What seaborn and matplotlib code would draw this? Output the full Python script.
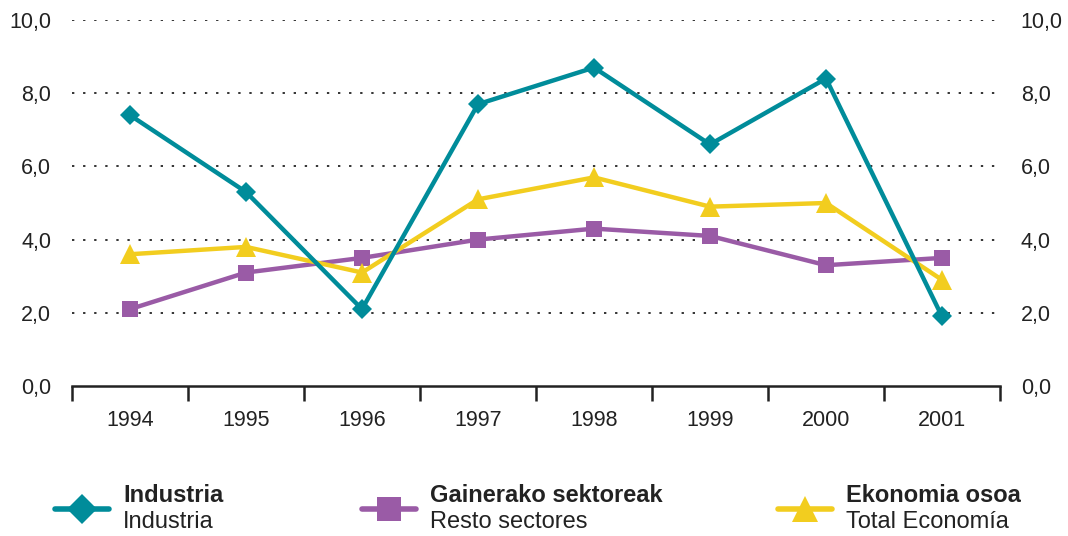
import numpy as np
import pandas as pd
import matplotlib
matplotlib.use("Agg")
import matplotlib.pyplot as plt
import seaborn as sns
from matplotlib.lines import Line2D
from matplotlib.ticker import FuncFormatter

years = ["1994", "1995", "1996", "1997", "1998", "1999", "2000", "2001"]
industria = [7.4, 5.3, 2.1, 7.7, 8.7, 6.6, 8.4, 1.9]
resto = [2.1, 3.1, 3.5, 4.0, 4.3, 4.1, 3.3, 3.5]
total = [3.6, 3.8, 3.1, 5.1, 5.7, 4.9, 5.0, 2.9]

series_names = ["Industria", "Resto sectores", "Total Economía"]
legend_bold = ["Industria", "Gainerako sektoreak", "Ekonomia osoa"]
legend_regular = ["Industria", "Resto sectores", "Total Economía"]

colors = {"Industria": "#008C9A", "Resto sectores": "#9A5BA6", "Total Economía": "#F2CD1F"}
markers = {"Industria": "D", "Resto sectores": "s", "Total Economía": "^"}
msizes = {"Industria": 10, "Resto sectores": 12, "Total Economía": 14}

df = pd.DataFrame({
    "year": years * 3,
    "x": list(range(len(years))) * 3,
    "value": industria + resto + total,
    "serie": [series_names[0]] * 8 + [series_names[1]] * 8 + [series_names[2]] * 8,
})

sns.set_style("white")
plt.rcParams["font.family"] = ["Liberation Sans", "DejaVu Sans"]

fig = plt.figure(figsize=(10.68, 5.36), dpi=100)
ax = fig.add_axes([72 / 1068, 1 - 386 / 536, 928 / 1068, 366 / 536])

# drawing order: purple, yellow, teal
for name, z in [("Resto sectores", 3), ("Total Economía", 4), ("Industria", 5)]:
    sub = df[df["serie"] == name]
    sns.lineplot(data=sub, x="x", y="value", ax=ax, color=colors[name],
                 marker=markers[name], markersize=msizes[name], linewidth=3.2,
                 markeredgewidth=0, zorder=z, clip_on=False, legend=False)

ax.set_xlim(-0.5, len(years) - 0.5)
ax.set_ylim(0, 10)
ax.set_xlabel("")
ax.set_ylabel("")

# dotted gridlines
for yv in [2, 4, 6, 8, 10]:
    ax.axhline(yv, xmax=0.995, color="#333333", linestyle=(0, (1.2, 4.5)), linewidth=1.4, zorder=1)

for s in ["top", "right", "left"]:
    ax.spines[s].set_visible(False)
ax.spines["bottom"].set_color("#222222")
ax.spines["bottom"].set_linewidth(1.8)

# category boundaries as tick marks, labels centered
ax.set_xticks(np.arange(-0.5, len(years), 1.0))
ax.set_xticklabels([])
ax.set_xticks(range(len(years)), minor=True)
ax.set_xticklabels(years, minor=True, fontsize=15.5, color="#222222")
ax.tick_params(axis="x", which="major", bottom=True, direction="out", length=11,
               width=1.8, color="#222222")
ax.tick_params(axis="x", which="minor", bottom=True, length=0, pad=17)

ax.set_yticks([0, 2, 4, 6, 8, 10])
ax.yaxis.set_major_formatter(FuncFormatter(lambda v, p: f"{v:.1f}".replace(".", ",")))
ax.tick_params(axis="y", which="both", length=0, labelsize=15.5, labelcolor="#222222",
               left=True, right=False, labelleft=True, labelright=True, pad=15)

# legend
leg_x = [55, 362, 778]
for i, name in enumerate(series_names):
    x0 = leg_x[i] / 1068
    x1 = (leg_x[i] + 54) / 1068
    y = 1 - 509 / 536
    fig.add_artist(Line2D([x0, x1], [y, y], color=colors[name], linewidth=4,
                          transform=fig.transFigure))
    fig.add_artist(Line2D([(x0 + x1) / 2], [y], color=colors[name], marker=markers[name],
                          markersize=msizes[name] + 5, markeredgewidth=0,
                          transform=fig.transFigure))
    tx = (leg_x[i] + 68) / 1068
    fig.text(tx, 1 - 495 / 536, legend_bold[i], fontsize=17, fontweight="bold",
             color="#222222", va="center", ha="left")
    fig.text(tx, 1 - 522 / 536, legend_regular[i], fontsize=17,
             color="#222222", va="center", ha="left")

fig.savefig("out.png", dpi=100)
